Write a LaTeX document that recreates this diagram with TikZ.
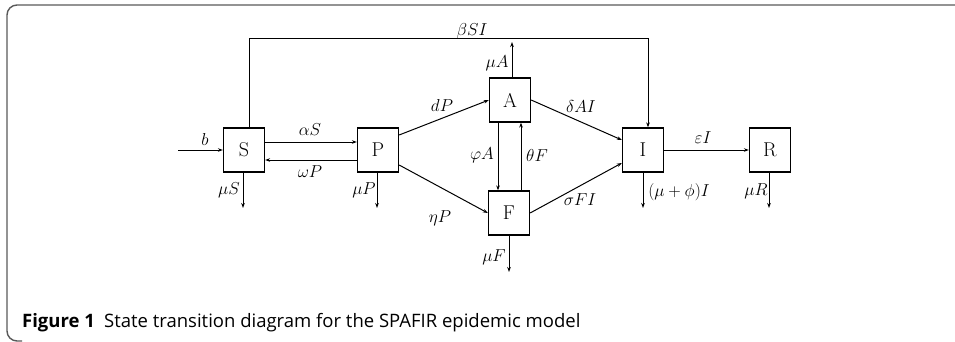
\documentclass[tikz,border=0pt]{standalone}
\usepackage{fontspec}
\setsansfont{Open Sans}
\usetikzlibrary{arrows.meta,calc}
\begin{document}
\begin{tikzpicture}[x=1pt,y=-1pt,
 box/.style={draw,line width=1.3pt,minimum width=41pt,minimum height=44pt,inner sep=0pt,font=\fontsize{20}{22}\selectfont},
 flow/.style={line width=1pt,-{Stealth[length=5pt,width=3.6pt]}},
 lab/.style={font=\fontsize{16.5}{18}\selectfont,inner sep=0pt},
 frame/.style={draw=black!65,line width=1.4pt,rounded corners=10pt}]
\useasboundingbox (0,0) rectangle (955,342);
\draw[frame] (956,5) -- (7,5) -- (7,341) -- (22,341);
\node[box] (S) at (244,150) {S};
\node[box] (P) at (378,150) {P};
\node[box] (A) at (510,100) {A};
\node[box] (F) at (509,213) {F};
\node[box] (I) at (643,150) {I};
\node[box] (R) at (770,150) {R};
\coordinate (bin) at (178,150);
\coordinate (t1) at (249,39);
\coordinate (t2) at (648,39);
\coordinate (dS) at (243,208);
\coordinate (dP) at (377,208);
\coordinate (uA) at (512,42);
\coordinate (dF) at (509,272);
\coordinate (dI) at (643,208);
\coordinate (dR) at (769,208);
\draw[flow] (bin) -- (S);
\draw[flow] ([yshift=8pt]S.east) -- ([yshift=8pt]P.west);
\draw[flow] ([yshift=-10pt]P.west) -- ([yshift=-10pt]S.east);
\draw[flow] ([yshift=15pt]P.east) -- (A.west);
\draw[flow] ([yshift=-15pt]P.east) -- (F.west);
\draw[flow] ([xshift=-12pt]A.south) -- ([xshift=-12pt]A.south |- F.north);
\draw[flow] ([xshift=12pt]F.north) -- ([xshift=12pt]F.north |- A.south);
\draw[flow] (A.north -| uA) -- (uA);
\draw[flow] (S.north -| t1) -- (t1) -- (t2) -- (I.north -| t2);
\draw[flow] (A.east) -- ([yshift=10pt]I.west);
\draw[flow] (F.east) -- ([yshift=-13pt]I.west);
\draw[flow] (I) -- (R);
\draw[flow] (S.south -| dS) -- (dS);
\draw[flow] (P.south -| dP) -- (dP);
\draw[flow] (F.south -| dF) -- (dF);
\draw[flow] (I.south -| dI) -- (dI);
\draw[flow] (R.south -| dR) -- (dR);
\node[lab] (lb) at (205,140) {$b$};
\node[lab] (laS) at (310,130) {$\alpha S$};
\node[lab] (lwP) at (310,172) {$\omega P$};
\node[lab] (lmS) at (229,190) {$\mu S$};
\node[lab] (lmP) at (364,190) {$\mu P$};
\node[lab] (ldP) at (442,106) {$dP$};
\node[lab] (leP) at (440,218) {$\eta P$};
\node[lab] (lfA) at (482,155) {$\varphi A$};
\node[lab] (ltF) at (537,155) {$\theta F$};
\node[lab] (lmA) at (497,63) {$\mu A$};
\node[lab] (lbSI) at (472,31) {$\beta SI$};
\node[lab] (ldAI) at (581,107) {$\delta AI$};
\node[lab] (lsFI) at (580,200) {$\sigma FI$};
\node[lab] (leI) at (703,138) {$\varepsilon I$};
\node[lab] (lmI) at (679,192) {$(\mu+\phi)I$};
\node[lab] (lmR) at (756,191) {$\mu R$};
\node[lab] (lmF) at (494,257) {$\mu F$};
\node[anchor=base west,inner sep=0pt,font=\sffamily\fontsize{18.5}{20}\selectfont] (cap) at (22,327) {\textbf{Figure 1}\hspace{0.5em}State transition diagram for the SPAFIR epidemic model};
\end{tikzpicture}
\end{document}
